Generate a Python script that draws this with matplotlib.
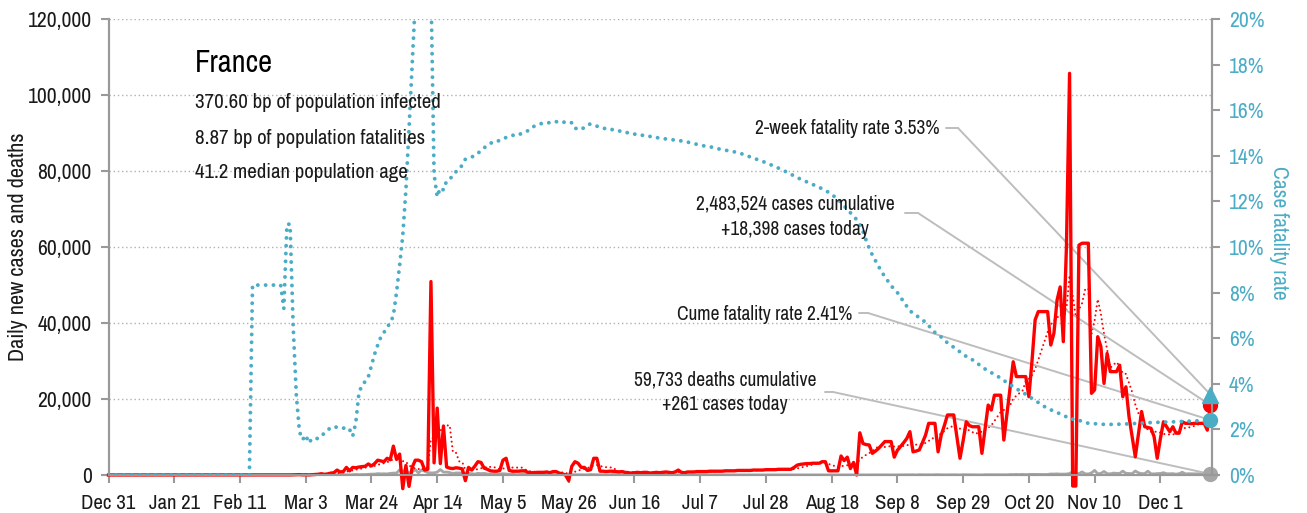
import numpy as np
import pandas as pd
import matplotlib
matplotlib.use('Agg')
import matplotlib.pyplot as plt
from matplotlib import font_manager

# pick a condensed sans face if one is installed
names = sorted({f.name for f in font_manager.fontManager.ttflist})
narrow = [n for n in names if ('Condensed' in n or 'Narrow' in n) and 'Mono' not in n and 'Serif' not in n]
cond_dejavu = [f for f in font_manager.fontManager.ttflist
               if f.name == 'DejaVu Sans' and f.stretch == 'condensed']
if narrow:
    plt.rcParams['font.family'] = [narrow[0], 'DejaVu Sans']
elif cond_dejavu:
    plt.rcParams['font.family'] = ['DejaVu Sans']
    plt.rcParams['font.stretch'] = 'condensed'
else:
    plt.rcParams['font.family'] = ['Roboto', 'DejaVu Sans']

# ---- data, one value per day from Dec 31 2019 ----
dates = pd.date_range('2019-12-31', '2020-12-17')

cases_dec31 = [0]
cases_jan = [0, 0, 0, 0, 0, 0, 0, 0, 0, 0, 0, 0, 0, 0, 0, 0, 0, 0, 0, 0,
             0, 0, 0, 3, 0, 0, 0, 0, 1, 0, 0]
cases_feb = [1, 0, 0, 0, 0, 0, 0, 5, 0, 0, 0, 0, 0, 0, 0, 0, 0, 0, 0, 0,
             0, 0, 0, 0, 2, 14, 18, 38, 57]
cases_mar = [100, 30, 61, 21, 73, 138, 190, 336, 177, 286, 500, 600, 1300, 800, 900,
             2000, 1100, 2000, 1900, 2100, 2200, 2300, 2900, 2400, 3000, 3900, 3700,
             3500, 4400, 4000, 7600]
cases_apr = [4100, 5500, -3600, 2500, -3000, 2000, 3900, 3900, 3500, 1300,
             1500, 50900, 3200, 17600, 3000, 12900, 2100, 1800, 1700, 1900,
             1800, 1600, -1500, 2000, 1300, 2300, 3500, 3300, 1800, 1500]
cases_may = [1100, 1000, 1000, 1200, 3900, 4400, 1200, 1000, 1000, 1000,
             1100, 1100, 700, 600, 600, 700, 700, 700, 800, 600,
             900, 900, 500, 300, 0, -1500, 2300, 3500, 3100, 2000, 2000]
cases_jun = [1200, 1400, 4400, 4400, 1000, 1000, 900, 1000, 1000, 900,
             800, 900, 700, 600, 500, 600, 700, 600, 700, 700,
             500, 600, 700, 600, 700, 800, 700, 600, 800, 1300]
cases_jul = [700, 600, 800, 800, 800, 900, 900, 900, 900, 1000,
             1000, 1000, 1000, 1000, 1100, 1100, 1100, 1100, 1200, 1200,
             1200, 1200, 1200, 1300, 1300, 1300, 1300, 1400, 1400, 1400, 1400]
cases_aug = [1500, 1500, 1500, 1500, 1500, 2000, 2600, 2800, 2900, 3000,
             3000, 3100, 3100, 3100, 3500, 3500, 1100, 1100, 1100, 1100,
             5000, 3800, 4700, 1700, 3300, 0, 11100, 8300, 8000, 7900, 5700]
cases_sep = [6300, 7000, 7900, 8800, 8800, 8800, 4700, 6500, 7500, 8500,
             9600, 11400, 6100, 6300, 6600, 8500, 10500, 13600, 13600, 13600,
             6100, 10500, 13000, 15800, 15800, 15800, 10000, 4400, 9000, 14000]
cases_oct = [13000, 12700, 12700, 12700, 5700, 12000, 18400, 17100, 21000, 21000,
             21000, 9200, 16000, 23000, 29800, 25900, 25900, 25900, 25900, 20600,
             30000, 40800, 43000, 43000, 43000, 43000, 34200, 37300, 46000, 49500, 35100]
cases_nov = [60000, 105700, -2900, -2900, 60500, 61000, 61000, 61000, 21500, 22400,
             36400, 33800, 24100, 32000, 27200, 27200, 27200, 28900, 20600, 23200,
             15300, 10000, 4800, 10800, 16700, 12700, 12500, 12300, 10100, 4400]
cases_dec = [9500, 14000, 12700, 11400, 12700, 11000, 11000, 14000, 13600, 13600,
             13500, 13600, 13600, 13600, 13600, 11800, 18398]

deaths_dec31 = [0]
deaths_jan = [0, 0, 0, 0, 0, 0, 0, 0, 0, 0, 0, 0, 0, 0, 0, 0, 0, 0, 0, 0,
              0, 0, 0, 0, 0, 0, 0, 0, 0, 0, 0]
deaths_feb = [0, 0, 0, 0, 0, 0, 0, 0, 0, 0, 0, 0, 0, 0, 1, 0, 0, 0, 0, 0,
              0, 0, 0, 0, 0, 1, 0, 0, 0]
deaths_mar = [0, 0, 1, 1, 2, 3, 2, 3, 11, 3, 15, 13, 18, 12, 36, 21, 27, 69, 128, 78,
              112, 112, 186, 240, 231, 365, 299, 319, 292, 418, 499]
deaths_apr = [509, 1355, 1120, 1053, 518, 833, 1417, 541, 1341, 987,
              635, 561, 574, 762, 1438, 753, 761, 642, 395, 547,
              531, 544, 516, 389, 369, 242, 437, 367, 427, 289]
deaths_may = [218, 166, 135, 306, 330, 278, 178, 243, 80, 70, 263, 348, 83, 351, 104,
              96, 35, 483, 98, 66, 65, 66, 43, 35, 51, 90, 65, 66, 52, 57, 31]
deaths_jun = [31, 107, 81, 44, 46, 27, 13, 9, 110, 29, 28, 24, 26, 10, 9,
              111, 29, 28, 14, 24, 9, 23, 13, 9, 30, 14, 22, 10, 30, 12]
deaths_jul = [18, 15, 14, 25, 8, 8, 12, 28, 11, 8, 25, 4, 4, 25, 12, 18,
              11, 4, 9, 5, 5, 13, 19, 13, 11, 13, 7, 9, 17, 17, 16]
deaths_aug = [10, 3, 14, 11, 13, 11, 19, 9, 5, 1, 17, 16, 21, 12, 12, 6,
              11, 14, 17, 17, 16, 22, 9, 7, 24, 14, 16, 20, 6, 25, 23]
deaths_sep = [26, 25, 20, 30, 7, 12, 25, 31, 29, 38, 45, 40, 53, 7, 79,
              51, 36, 51, 26, 73, 81, 43, 28, 48, 50, 52, 44, 12, 81, 85]
deaths_oct = [62, 52, 49, 52, 16, 78, 80, 77, 62, 68, 54, 60, 63, 114, 105, 151,
              97, 162, 86, 154, 146, 162, 164, 137, 128, 153, 271, 244, 299, 231, 236]
deaths_nov = [250, 400, 854, 385, 363, 828, 306, 271, 551, 1220, 328, 425, 932, 354, 302,
              506, 437, 425, 1034, 428, 401, 360, 1051, 580, 363, 374, 1007, 320, 287, 382]
deaths_dec = [400, 606, 328, 323, 358, 221, 348, 731, 291, 337, 315, 303, 306, 327,
              366, 289, 261]

# cumulative case fatality rate, %
cfr_dec31 = [0]
cfr_jan = [0, 0, 0, 0, 0, 0, 0, 0, 0, 0, 0, 0, 0, 0, 0, 0, 0, 0, 0, 0,
           0, 0, 0, 0, 0, 0, 0, 0, 0, 0, 0]
cfr_feb = [0, 0, 0, 0, 0, 0, 0, 0, 0, 0, 0, 0, 0, 0,
           8.33, 8.33, 8.33, 8.33, 8.33, 8.33, 8.33, 8.33, 8.33, 8.33,
           7.3, 11.0, 11.0, 6.5, 3.5]
cfr_mar = [1.9, 1.55, 1.75, 1.4, 1.6, 1.6, 1.6, 1.7, 1.85, 1.95, 2.1, 2.1, 2.1, 2.1,
           2.05, 2.1, 2.0, 1.7, 2.3, 3.6, 3.95, 4.1, 4.3, 4.8, 5.3, 5.7, 6.05, 6.25,
           6.5, 6.65, 7.0]
cfr_apr = [8.0, 9.2, 10.5, 12.5, 15.2, 18.0, 20.8, 23.0, 24.0, 24.0, 23.0, 21.5,
           13.2, 12.2, 12.6, 12.5, 12.9, 13.0, 13.1, 13.3, 13.4, 13.6, 13.85, 13.9,
           13.95, 14.0, 14.1, 14.25, 14.35, 14.45]
cfr_may = [14.55, 14.6, 14.6, 14.7, 14.75, 14.8, 14.85, 14.9, 14.9, 14.9, 15.0, 15.05,
           15.1, 15.2, 15.3, 15.35, 15.4, 15.45, 15.45, 15.45, 15.45, 15.5, 15.45,
           15.45, 15.5, 15.45, 15.45, 15.2, 15.2, 15.15, 15.25]
cfr_jun = [15.35, 15.4, 15.35, 15.3, 15.25, 15.2, 15.2, 15.15, 15.15, 15.1, 15.1,
           15.05, 15.05, 15.0, 15.0, 14.95, 14.95, 14.9, 14.9, 14.85, 14.85, 14.8,
           14.8, 14.78, 14.76, 14.74, 14.72, 14.7, 14.7, 14.68]
cfr_jul = [14.65, 14.62, 14.6, 14.57, 14.54, 14.5, 14.47, 14.44, 14.42, 14.4, 14.37,
           14.34, 14.3, 14.28, 14.25, 14.22, 14.2, 14.17, 14.14, 14.1, 14.05, 14.0,
           13.95, 13.9, 13.85, 13.8, 13.75, 13.7, 13.64, 13.58, 13.52]
cfr_aug = [13.46, 13.4, 13.33, 13.26, 13.19, 13.12, 13.05, 12.98, 12.92, 12.86, 12.8,
           12.74, 12.68, 12.62, 12.55, 12.48, 12.4, 12.3, 12.2, 12.1, 11.95, 11.8,
           11.65, 11.5, 11.35, 11.2, 11.0, 10.7, 10.3, 9.95, 9.65]
cfr_sep = [9.4, 9.15, 8.9, 8.7, 8.5, 8.3, 8.15, 8.0, 7.8, 7.6, 7.4, 7.2, 7.1, 7.0,
           6.9, 6.8, 6.7, 6.55, 6.4, 6.25, 6.15, 6.05, 5.9, 5.8, 5.7, 5.6, 5.5,
           5.4, 5.3, 5.2]
cfr_oct = [5.15, 5.05, 4.95, 4.85, 4.75, 4.65, 4.57, 4.49, 4.41, 4.33, 4.25, 4.15,
           4.05, 3.97, 3.88, 3.79, 3.7, 3.62, 3.54, 3.45, 3.36, 3.27, 3.18, 3.09,
           3.0, 2.92, 2.86, 2.8, 2.74, 2.68, 2.62]
cfr_nov = [2.55, 2.45, 2.45, 2.45, 2.4, 2.35, 2.3, 2.27, 2.26, 2.25, 2.24, 2.23,
           2.22, 2.22, 2.22, 2.22, 2.22, 2.23, 2.23, 2.24, 2.24, 2.25, 2.26, 2.27,
           2.28, 2.29, 2.29, 2.3, 2.3, 2.31]
cfr_dec = [2.31, 2.32, 2.32, 2.33, 2.33, 2.34, 2.34, 2.35, 2.35, 2.36, 2.36, 2.37,
           2.38, 2.38, 2.39, 2.4, 2.41]

two_week_rate = 3.53
cume_rate = 2.41
cases_cume = 2483524
cases_today = 18398
deaths_cume = 59733
deaths_today = 261

country = 'France'
info_lines = ['370.60 bp of population infected',
              '8.87 bp of population fatalities',
              '41.2 median population age']

# ---- assemble ----
months = ['dec31', 'jan', 'feb', 'mar', 'apr', 'may', 'jun', 'jul', 'aug', 'sep', 'oct', 'nov', 'dec']
cases = sum([globals()['cases_' + m] for m in months], [])
deaths = sum([globals()['deaths_' + m] for m in months], [])
cfr = sum([globals()['cfr_' + m] for m in months], [])

df = pd.DataFrame({'cases': cases, 'deaths': deaths, 'cfr': cfr}, index=dates)
df['avg7'] = df.cases.rolling(7, min_periods=1).mean()
day = np.arange(len(df))
last = day[-1]

RED = '#ff0000'
CYAN = '#4bacc6'
GRAY = '#a6a6a6'
SPINE = '#999999'
LEAD = '#bdbdbd'
TXT = '#1a1a1a'

W, H = 1307, 513
fig = plt.figure(figsize=(W / 100, H / 100), dpi=100)
ax = fig.add_axes([108.5 / W, (H - 475) / H, (1212 - 108.5) / W, (475 - 19) / H])
ax2 = ax.twinx()

# lines
ax.plot(day, df.deaths, color=GRAY, lw=2, zorder=2)
ax.plot(day, df.avg7, color=RED, lw=1.5, ls=(0, (0.01, 2.2)), dash_capstyle='round', zorder=3)
ax.plot(day, df.cases, color=RED, lw=2.4, zorder=4, clip_on=False)
ax2.plot(day, df.cfr, color=CYAN, lw=2.8, ls=(0, (0.01, 2.0)), dash_capstyle='round', zorder=3)

# end markers
ax.plot(last, cases_today, 'o', color=RED, ms=10, clip_on=False, zorder=6)
ax.plot(last, deaths_today, 'o', color=GRAY, ms=10, clip_on=False, zorder=6)
ax2.plot(last, two_week_rate, '^', color=CYAN, ms=11, clip_on=False, zorder=6)
ax2.plot(last, cume_rate, 'o', color=CYAN, ms=10, clip_on=False, zorder=6)

# axes
ax.set_xlim(0, 352.5)
ax.set_ylim(0, 120000)
ax2.set_ylim(0, 20)
ax.set_yticks(np.arange(0, 120001, 20000))
ax.set_yticklabels([f'{v:,.0f}' for v in np.arange(0, 120001, 20000)])
ax2.set_yticks(np.arange(0, 21, 2))
ax2.set_yticklabels([f'{v:.0f}%' for v in np.arange(0, 21, 2)])
xt = np.arange(0, 337, 21)
ax.set_xticks(xt)
ax.set_xticklabels([d.strftime('%b ') + str(d.day) for d in dates[xt]])

for a in (ax, ax2):
    a.spines['top'].set_visible(False)
    for s in ('left', 'right', 'bottom'):
        a.spines[s].set_color(SPINE)
        a.spines[s].set_linewidth(1.5)
    a.tick_params(length=6, width=1.5, color=SPINE, labelsize=15.5)
ax.tick_params(axis='y', labelcolor=TXT, pad=6)
ax.tick_params(axis='x', labelcolor=TXT, pad=8, labelsize=15)
ax2.tick_params(axis='y', labelcolor=CYAN, pad=6)
ax.yaxis.grid(True, ls=(0, (1, 2)), color='#b0b0b0', lw=1)
ax.set_axisbelow(True)

fig.text(18 / W, 1 - 247 / H, 'Daily new cases and deaths', rotation=90,
         ha='center', va='center', fontsize=16, color=TXT)
fig.text(1279 / W, 1 - 233 / H, 'Case fatality rate', rotation=270,
         ha='center', va='center', fontsize=15.5, color=CYAN)

# title block
fig.text(195 / W, 1 - 63 / H, country, fontsize=22, ha='left', va='center', color='black')
for txt, y in zip(info_lines, [103, 139, 172]):
    fig.text(195 / W, 1 - y / H, txt, fontsize=15, ha='left', va='center', color=TXT)

# annotations with leader lines
def leader(x0, x1, y, target, coords):
    yy = H - y
    kw = dict(arrowstyle='-', color=LEAD, lw=1.4, shrinkA=0, shrinkB=0)
    ax.annotate('', xy=(x1, yy), xycoords='figure pixels', xytext=(x0, yy),
                textcoords='figure pixels', arrowprops=kw)
    ax.annotate('', xy=target, xycoords=coords, xytext=(x1, yy),
                textcoords='figure pixels', arrowprops=kw)

fig.text(940 / W, 1 - 129 / H, f'2-week fatality rate {two_week_rate:.2f}%',
         fontsize=14, ha='right', va='center', color=TXT)
leader(946, 958, 128, (last, two_week_rate), ax2.transData)

fig.text(795 / W, 1 - 217 / H,
         f'{cases_cume:,} cases cumulative\n+{cases_today:,} cases today',
         fontsize=14, ha='center', va='center', color=TXT, linespacing=1.4)
leader(905, 918, 213, (last, cases_today), ax.transData)

fig.text(852 / W, 1 - 314 / H, f'Cume fatality rate {cume_rate:.2f}%',
         fontsize=14, ha='right', va='center', color=TXT)
leader(859, 868, 313, (last, cume_rate), ax2.transData)

fig.text(725 / W, 1 - 392 / H,
         f'{deaths_cume:,} deaths cumulative\n+{deaths_today} cases today',
         fontsize=14, ha='center', va='center', color=TXT, linespacing=1.4)
leader(825, 833, 392, (last, deaths_today), ax.transData)

fig.savefig('out.png', dpi=100)
